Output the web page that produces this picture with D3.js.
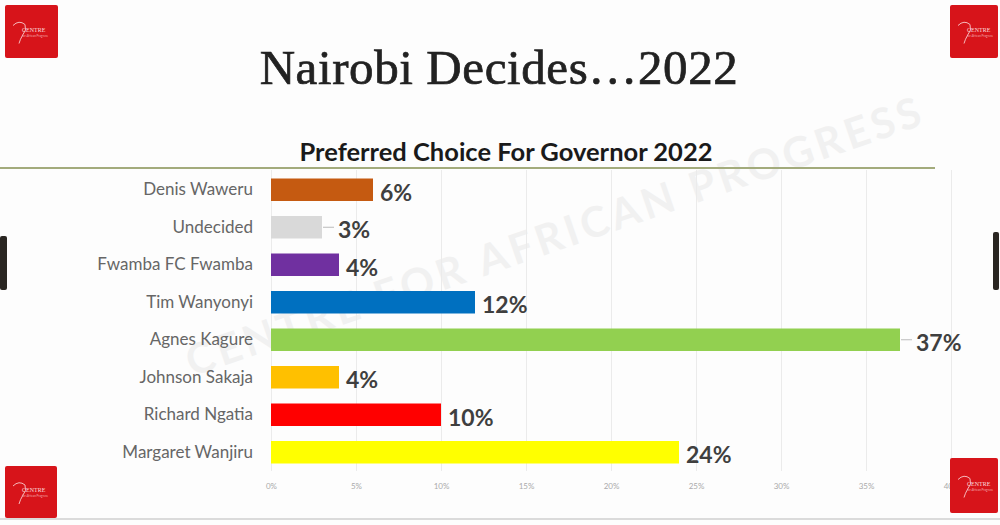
<!DOCTYPE html>
<html>
<head>
<meta charset="utf-8">
<script src="https://cdn.jsdelivr.net/npm/d3@7"></script>
<style>
  html, body { margin: 0; padding: 0; background: #fdfdfd; }
  svg { display: block; }
</style>
</head>
<body>
<div id="chart"></div>
<script>
// data, top to bottom as drawn
const candidates = ["Denis Waweru", "Undecided", "Fwamba FC Fwamba", "Tim Wanyonyi",
  "Agnes Kagure", "Johnson Sakaja", "Richard Ngatia", "Margaret Wanjiru"];
const shares = [6, 3, 4, 12, 37, 4, 10, 24];
const barColors = ["#c55a11", "#d9d9d9", "#7030a0", "#0070c0",
  "#92d050", "#ffc000", "#ff0000", "#ffff00"];
const tickValues = [0, 5, 10, 15, 20, 25, 30, 35, 40];

const width = 1000;
const height = 525;

const svg = d3.select("#chart")
  .append("svg")
  .attr("width", width)
  .attr("height", height);

svg.append("rect")
  .attr("width", width)
  .attr("height", height)
  .attr("fill", "#fdfdfd");

// scales
const x = d3.scaleLinear()
  .domain([0, 40])
  .range([271, 951]);

const y = d3.scaleBand()
  .domain(candidates)
  .range([171, 471])
  .paddingInner(0.4)
  .paddingOuter(0.2);

// watermark
svg.append("text")
  .attr("transform", "translate(560,250) rotate(-19)")
  .attr("text-anchor", "middle")
  .style("font-family", "Lato, sans-serif")
  .style("font-weight", "bold")
  .style("font-size", "42px")
  .style("letter-spacing", "4px")
  .attr("fill", "#f1f1f1")
  .text("CENTRE FOR AFRICAN PROGRESS");

// titles
svg.append("text")
  .attr("x", 499)
  .attr("y", 84)
  .attr("text-anchor", "middle")
  .style("font-family", "'Liberation Serif', serif")
  .style("font-size", "49px")
  .style("letter-spacing", "0.6px")
  .attr("fill", "#222")
  .attr("stroke", "#222")
  .attr("stroke-width", 0.7)
  .text("Nairobi Decides\u20262022");

svg.append("text")
  .attr("x", 506)
  .attr("y", 161)
  .attr("text-anchor", "middle")
  .style("font-family", "Lato, sans-serif")
  .style("font-weight", "bold")
  .style("font-size", "25.5px")
  .attr("fill", "#1a1a1a")
  .text("Preferred Choice For Governor 2022");

svg.append("line")
  .attr("x1", 0).attr("x2", 935)
  .attr("y1", 168).attr("y2", 168)
  .attr("stroke", "#a3ab7c")
  .attr("stroke-width", 2);

// gridlines + tick labels
const xAxis = d3.axisBottom(x)
  .tickValues(tickValues)
  .tickSize(-(471 - 170))
  .tickPadding(12)
  .tickFormat(d => d + "%");

const gx = svg.append("g")
  .attr("transform", "translate(0,471)")
  .call(xAxis);

gx.select(".domain").remove();
gx.selectAll(".tick line")
  .attr("stroke", "#ebebeb");
gx.selectAll(".tick text")
  .attr("fill", "#aaa")
  .style("font-family", "Lato, sans-serif")
  .style("font-size", "8px");

// category labels
const yAxis = d3.axisLeft(y).tickSize(0).tickPadding(18);
const gy = svg.append("g")
  .attr("transform", "translate(271,0)")
  .call(yAxis);
gy.select(".domain").remove();
gy.selectAll(".tick text")
  .attr("fill", "#666")
  .style("font-family", "Lato, sans-serif")
  .style("font-size", "17px");

// bars
svg.selectAll(".bar")
  .data(candidates)
  .enter()
  .append("rect")
  .attr("class", "bar")
  .attr("x", x(0))
  .attr("y", d => y(d))
  .attr("width", (d, i) => x(shares[i]) - x(0))
  .attr("height", y.bandwidth())
  .attr("fill", (d, i) => barColors[i]);

// leader lines where the label sits further out
const leader = d => d === "Undecided" || d === "Agnes Kagure";

svg.selectAll(".leader")
  .data(candidates.filter(leader))
  .enter()
  .append("line")
  .attr("x1", d => x(shares[candidates.indexOf(d)]) + 1)
  .attr("x2", d => x(shares[candidates.indexOf(d)]) + 12)
  .attr("y1", d => y(d) + y.bandwidth() / 2)
  .attr("y2", d => y(d) + y.bandwidth() / 2)
  .attr("stroke", "#bbb")
  .attr("stroke-width", 1);

svg.selectAll(".value")
  .data(candidates)
  .enter()
  .append("text")
  .attr("class", "value")
  .attr("x", (d, i) => x(shares[i]) + (leader(d) ? 16 : 7))
  .attr("y", d => y(d) + y.bandwidth() / 2 + 3)
  .attr("dy", "0.35em")
  .style("font-family", "Lato, sans-serif")
  .style("font-weight", "bold")
  .style("font-size", "23px")
  .attr("fill", "#3f3f3f")
  .text((d, i) => shares[i] + "%");

// bottom rule and edge marks
svg.append("line")
  .attr("x1", 0).attr("x2", 1000)
  .attr("y1", 519).attr("y2", 519)
  .attr("stroke", "#cfcfcf")
  .attr("stroke-width", 1.5);

svg.append("rect").attr("x", 0).attr("y", 236).attr("width", 7).attr("height", 54)
  .attr("rx", 2).attr("fill", "#2a2622");
svg.append("rect").attr("x", 993).attr("y", 232).attr("width", 6).attr("height", 58)
  .attr("rx", 2).attr("fill", "#2a2622");

// corner logos
const logos = [
  { x: 5, y: 5, w: 53, h: 53 },
  { x: 950, y: 5, w: 48, h: 53 },
  { x: 5, y: 466, w: 52, h: 52 },
  { x: 950, y: 458, w: 48, h: 55 }
];

logos.forEach(l => {
  const g = svg.append("g").attr("transform", `translate(${l.x},${l.y})`);
  g.append("rect")
    .attr("width", l.w)
    .attr("height", l.h)
    .attr("rx", 2)
    .attr("fill", "#d7141a");
  g.append("path")
    .attr("d", `M8,${l.h / 2 - 6} q6,-6 12,-1 q2,6 -2,10 q-3,5 -4,9`)
    .attr("fill", "none")
    .attr("stroke", "#f6b9bb")
    .attr("stroke-width", 1);
  g.append("text")
    .attr("x", 17)
    .attr("y", l.h / 2)
    .style("font-family", "'Liberation Serif', serif")
    .style("font-size", "6px")
    .attr("fill", "#fbdcdc")
    .text("CENTRE");
  g.append("text")
    .attr("x", 17)
    .attr("y", l.h / 2 + 5)
    .style("font-family", "Lato, sans-serif")
    .style("font-size", "3px")
    .attr("fill", "#f3a9ab")
    .text("for African Progress");
});
</script>
</body>
</html>
